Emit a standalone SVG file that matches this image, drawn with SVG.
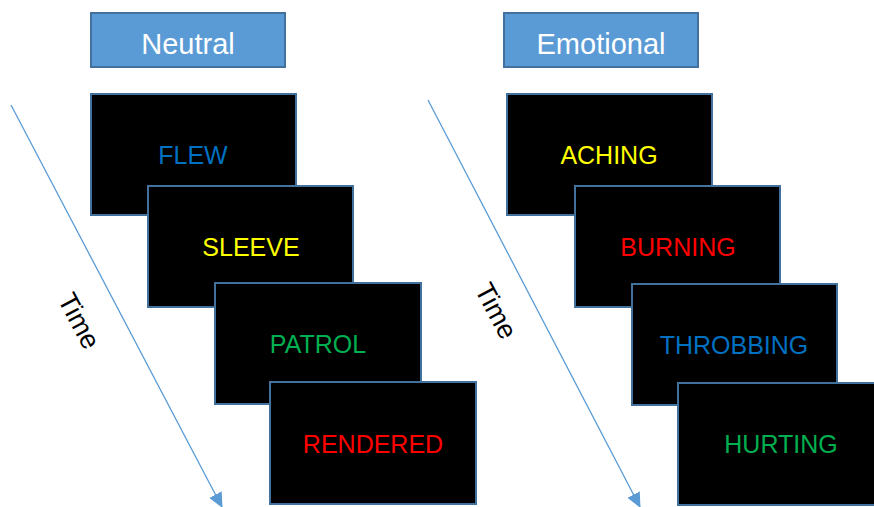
<svg xmlns="http://www.w3.org/2000/svg" width="874" height="507" viewBox="0 0 874 507">
<style>
.hdr{fill:#5B9BD5;stroke:#41719C;stroke-width:2}
.hdrt{fill:#fff;font-family:"Liberation Sans",Arial,sans-serif;font-size:29px;text-anchor:middle}
.scr{fill:#000;stroke:#41719C;stroke-width:2}
.w{font-family:"Liberation Sans",Arial,sans-serif;font-size:25px;text-anchor:middle}
.tl{stroke:#5B9BD5;stroke-width:1.3;fill:none}
.time{fill:#000;font-family:"Liberation Sans",Arial,sans-serif;font-size:27px;text-anchor:middle}
</style>
<defs>
<marker id="ah" markerWidth="15" markerHeight="14" refX="14" refY="7" orient="auto" markerUnits="userSpaceOnUse" viewBox="0 0 15 14">
<path d="M0,0 L15,7 L0,14 Z" fill="#5B9BD5"/>
</marker>
</defs>
<rect width="874" height="507" fill="#fff"/>
<g id="connectors">
<line class="tl" x1="11" y1="105" x2="222" y2="507" marker-end="url(#ah)"/>
<line class="tl" x1="428" y1="100" x2="640" y2="507" marker-end="url(#ah)"/>
</g>
<g id="neutral-header"><rect class="hdr" x="91" y="13" width="194" height="54"/><text class="hdrt" x="188" y="54">Neutral</text></g>
<g id="emotional-header"><rect class="hdr" x="504" y="13" width="194" height="54"/><text class="hdrt" x="601" y="54">Emotional</text></g>
<g id="time-neutral"><text class="time" transform="translate(79,321) rotate(62)" y="9">Time</text></g>
<g id="time-emotional"><text class="time" transform="translate(496,311) rotate(62)" y="9">Time</text></g>
<g id="flew"><rect class="scr" x="91" y="94" width="205" height="121"/><text class="w" fill="#0070C0" x="193" y="164">FLEW</text></g>
<g id="sleeve"><rect class="scr" x="148" y="186" width="205" height="121"/><text class="w" fill="#FFFF00" x="251" y="256">SLEEVE</text></g>
<g id="patrol"><rect class="scr" x="215" y="283" width="206" height="121"/><text class="w" fill="#00B050" x="318" y="353">PATROL</text></g>
<g id="rendered"><rect class="scr" x="270" y="382" width="206" height="122"/><text class="w" fill="#FF0000" x="373" y="453">RENDERED</text></g>
<g id="aching"><rect class="scr" x="507" y="94" width="205" height="121"/><text class="w" fill="#FFFF00" x="609" y="164">ACHING</text></g>
<g id="burning"><rect class="scr" x="575" y="186" width="205" height="121"/><text class="w" fill="#FF0000" x="678" y="256">BURNING</text></g>
<g id="throbbing"><rect class="scr" x="632" y="284" width="205" height="121"/><text class="w" fill="#0070C0" x="734" y="354">THROBBING</text></g>
<g id="hurting"><rect class="scr" x="678" y="383" width="206" height="122"/><text class="w" fill="#00B050" x="781" y="453">HURTING</text></g>
</svg>
